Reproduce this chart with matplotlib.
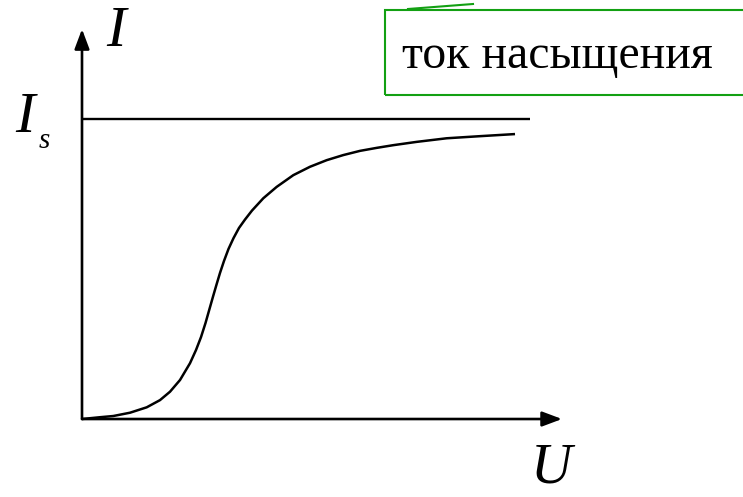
import matplotlib
matplotlib.use("Agg")
import matplotlib.pyplot as plt
from matplotlib.patches import Rectangle
from matplotlib.lines import Line2D

# Data (arbitrary units: U along x, I along y, I_s = 1)
U_curve = [0.0, 0.18, 0.313, 0.48, 0.647, 0.78, 0.88, 0.98, 1.08, 1.14, 1.19, 1.235,
           1.275, 1.31, 1.345, 1.38, 1.42, 1.465, 1.515, 1.57, 1.63, 1.70, 1.813,
           1.947, 2.113, 2.28, 2.447, 2.613, 2.78, 2.947, 3.113, 3.347, 3.647, 3.98, 4.33]
I_curve = [0.0, 0.006, 0.010, 0.021, 0.039, 0.063, 0.091, 0.130, 0.186, 0.230, 0.273, 0.320,
           0.367, 0.408, 0.448, 0.487, 0.527, 0.567, 0.603, 0.637, 0.665, 0.695, 0.736,
           0.774, 0.813, 0.841, 0.863, 0.880, 0.894, 0.904, 0.913, 0.924, 0.936, 0.943, 0.950]
I_s = 1.0
U_sat_end = 4.48
U_axis_end = 4.8
I_axis_end = 1.3

labels = {"I": "I", "Is": "I", "s": "s", "U": "U", "box": "ток насыщения"}

fig = plt.figure(figsize=(7.43, 4.97), dpi=100)
ax = fig.add_axes([0, 0, 1, 1])
ax.set_xlim(-0.82, 6.61)
ax.set_ylim(-0.26, 1.397)
ax.axis("off")

lw_axis = 1.9
arrow = dict(arrowstyle="-|>,head_length=1.2,head_width=0.45",
             lw=lw_axis, color="black", shrinkA=0, shrinkB=0)
ax.annotate("", xy=(U_axis_end, 0), xytext=(0, 0), arrowprops=arrow)
ax.annotate("", xy=(0, I_axis_end), xytext=(0, 0), arrowprops=arrow)

# saturation level
ax.plot([0, U_sat_end], [I_s, I_s], color="black", lw=1.7, solid_capstyle="butt")
# current-voltage curve
ax.plot(U_curve, I_curve, color="black", lw=1.8, solid_joinstyle="round",
        solid_capstyle="butt")

serif = ["Liberation Serif", "DejaVu Serif"]
ax.text(0.24, 1.243, labels["I"], fontsize=42, style="italic", family=serif,
        ha="left", va="baseline")
ax.text(-0.67, 0.957, labels["Is"], fontsize=42, style="italic", family=serif,
        ha="left", va="baseline")
ax.text(-0.43, 0.903, labels["s"], fontsize=21, style="italic", family=serif,
        ha="left", va="baseline")
ax.text(4.49, -0.213, labels["U"], fontsize=41, style="italic", family=serif,
        ha="left", va="baseline")

# callout box (figure pixel coordinates)
green = "#13a013"
H = 497
rect = Rectangle((385, H - 95), 400, 85, transform=None, fill=False,
                 edgecolor=green, lw=1.5)
fig.patches.append(rect)
fig.lines.append(Line2D([408 / 743, 473 / 743], [1 - 9 / H, 1 - 4 / H],
                        transform=fig.transFigure, color=green, lw=1.5))
fig.text(402 / 743, 1 - 68 / H, labels["box"], fontsize=34.4, family=serif,
         ha="left", va="baseline")

fig.savefig("out.png", dpi=100)
